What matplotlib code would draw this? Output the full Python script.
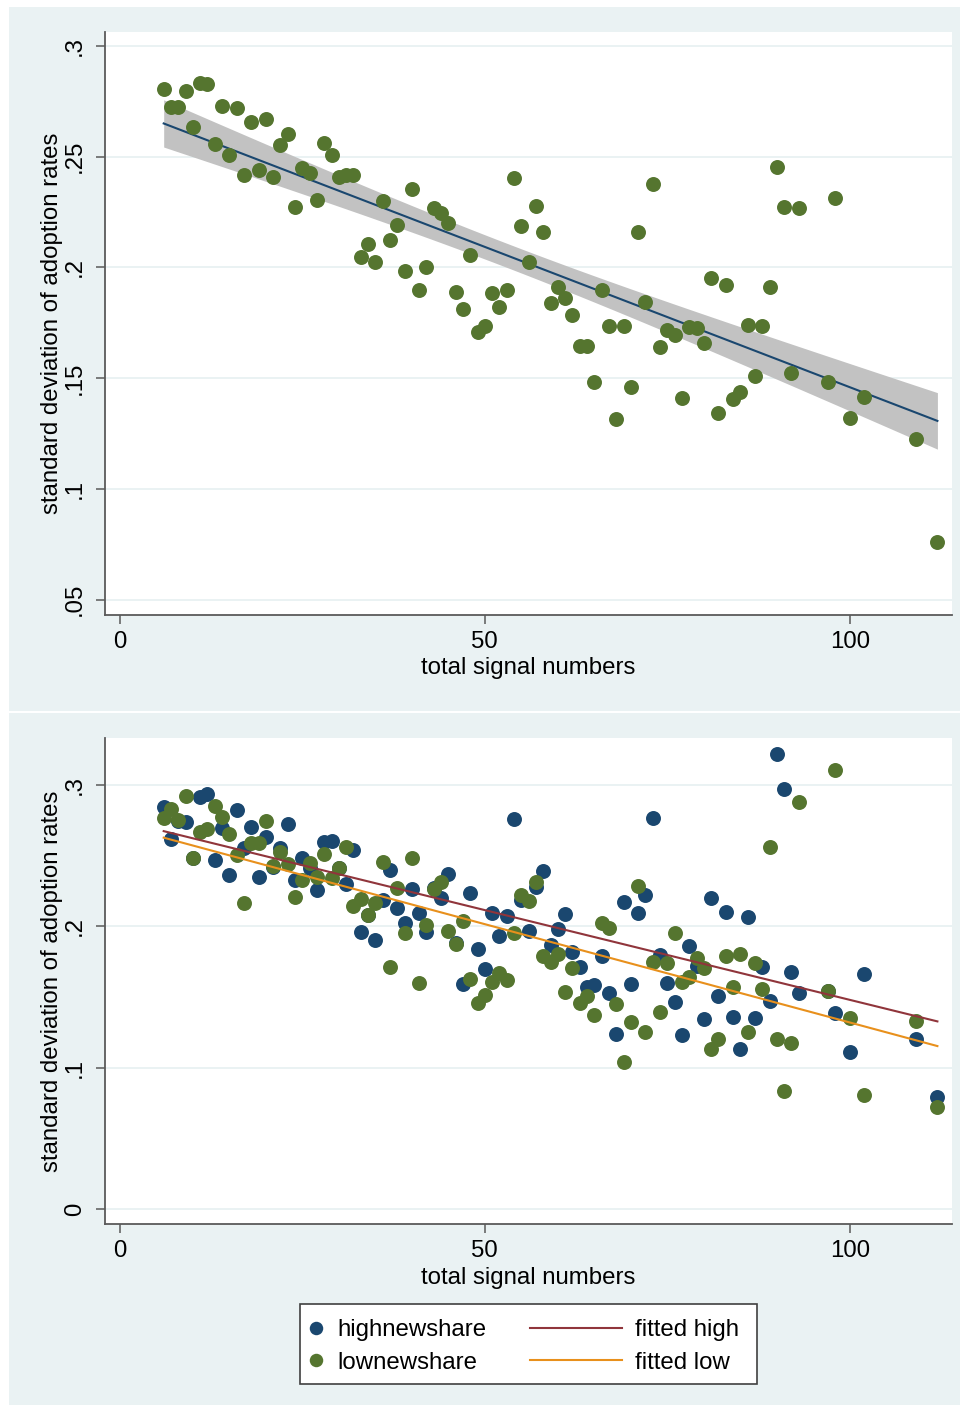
import numpy as np
import matplotlib
matplotlib.use("Agg")
import matplotlib.pyplot as plt
from matplotlib.patches import Rectangle
from matplotlib.lines import Line2D

plt.rcParams['font.family'] = ['Liberation Sans', 'DejaVu Sans']

# total signal numbers (same groups in both panels)
signals = [6, 7, 8, 9, 10, 11, 12, 13, 14, 15, 16, 17, 18, 19, 20, 21, 22, 23,
           24, 25, 26, 27, 28, 29, 30, 31, 32, 33, 34, 35, 36, 37, 38, 39, 40,
           41, 42, 43, 44, 45, 46, 47, 48, 49, 50, 51, 52, 53, 54, 55, 56, 57,
           58, 59, 60, 61, 62, 63, 64, 65, 66, 67, 68, 69, 70, 71, 72, 73, 74,
           75, 76, 77, 78, 79, 80, 81, 82, 83, 84, 85, 86, 87, 88, 89, 90, 91,
           92, 93, 97, 98, 100, 102, 109, 112]

# top panel: all news
sd_all = [.2805, .2726, .2726, .2797, .2633, .2834, .2828, .2558, .2730, .2508,
          .2721, .2416, .2658, .2440, .2670, .2409, .2552, .2603, .2274, .2448,
          .2428, .2303, .2561, .2507, .2410, .2416, .2416, .2047, .2105, .2023,
          .2300, .2126, .2192, .1984, .2353, .1898, .2002, .2267, .2245, .2200,
          .1891, .1811, .2058, .1710, .1737, .1883, .1820, .1897, .2403, .2189,
          .2026, .2279, .2160, .1838, .1911, .1862, .1784, .1644, .1644, .1483,
          .1897, .1737, .1315, .1735, .1462, .2160, .1844, .2377, .1640, .1718,
          .1694, .1411, .1731, .1726, .1658, .1954, .1342, .1921, .1405, .1437,
          .1740, .1509, .1736, .1912, .2455, .2272, .1525, .2269, .1484, .2315,
          .1321, .1415, .1224, .0759]

# bottom panel: high / low new-share groups
sd_high = [.2847, .2620, .2745, .2737, .2486, .2916, .2937, .2470, .2699, .2362,
           .2826, .2553, .2700, .2347, .2632, .2420, .2556, .2722, .2328, .2486,
           .2412, .2258, .2600, .2604, .2415, .2302, .2544, .1958, .2081, .1902,
           .2187, .2399, .2132, .2026, .2265, .2093, .1957, .2275, .2199, .2369,
           .1885, .1592, .2239, .1840, .1697, .2097, .1930, .2076, .2760, .2187,
           .1967, .2281, .2389, .1868, .1979, .2086, .1817, .1713, .1569, .1585,
           .1790, .1531, .1235, .2175, .1590, .2095, .2224, .2765, .1798, .1597,
           .1463, .1229, .1859, .1720, .1343, .2203, .1510, .2104, .1361, .1130,
           .2067, .1350, .1713, .1472, .3220, .2970, .1680, .1527, .1545, .1389,
           .1113, .1661, .1201, .0795]

sd_low = [.2765, .2829, .2753, .2923, .2486, .2670, .2687, .2852, .2772, .2654,
          .2505, .2164, .2588, .2588, .2746, .2427, .2529, .2439, .2206, .2328,
          .2447, .2352, .2512, .2340, .2415, .2564, .2147, .2192, .2084, .2165,
          .2453, .1715, .2270, .1951, .2482, .1597, .2010, .2262, .2317, .1970,
          .1873, .2040, .1626, .1456, .1518, .1603, .1668, .1621, .1956, .2220,
          .2178, .2314, .1791, .1750, .1805, .1534, .1704, .1456, .1510, .1370,
          .2026, .1991, .1451, .1043, .1320, .2286, .1255, .1750, .1392, .1739,
          .1956, .1605, .1640, .1774, .1704, .1132, .1203, .1791, .1569, .1802,
          .1255, .1744, .1557, .2564, .1203, .0835, .1178, .2883, .1543, .3107,
          .1355, .0807, .1330, .0725]

top_yticks = [.05, .1, .15, .2, .25, .3]
top_ylabels = ['.05', '.1', '.15', '.2', '.25', '.3']
bot_yticks = [0, .1, .2, .3]
bot_ylabels = ['0', '.1', '.2', '.3']
xticks = [0, 50, 100]

BG = '#EAF2F3'
NAVY = '#1A476F'
GREEN = '#55752F'
MAROON = '#90353B'
ORANGE = '#E8901C'
BAND = '#C2C2C2'
AXC = '#5A5A5A'
FS = 17.3
W, H = 968, 1411

x = np.array(signals, dtype=float)


def linfit(xv, yv):
    b, a = np.polyfit(xv, yv, 1)
    return a, b


def style(ax, yticks, ylabels, ylim, xlab_y):
    ax.set_xlim(-2, 114)
    ax.set_ylim(*ylim)
    ax.set_xticks(xticks)
    ax.set_yticks(yticks)
    ax.set_yticklabels(ylabels)
    for s in ['top', 'right']:
        ax.spines[s].set_visible(False)
    for s in ['left', 'bottom']:
        ax.spines[s].set_color(AXC)
        ax.spines[s].set_linewidth(1.3)
    ax.tick_params(length=6.5, width=1.1, color=AXC, labelsize=FS)
    ax.tick_params(axis='x', pad=5)
    ax.tick_params(axis='y', pad=7.5, labelrotation=90)
    for t in ax.get_yticklabels():
        t.set_va('center')
    ax.yaxis.grid(True, color=BG, lw=1.4)
    ax.set_axisbelow(True)
    ax.set_xlabel('total signal numbers', fontsize=FS)
    ax.xaxis.set_label_coords(0.5, xlab_y)
    ax.set_ylabel('standard deviation of adoption rates', fontsize=FS)
    ax.yaxis.set_label_coords(-0.0494, 0.5)


fig = plt.figure(figsize=(W / 100, H / 100), dpi=100)
fig.patch.set_facecolor('white')
fig.patches.append(Rectangle((9 / W, 1 - 711 / H), 951 / W, 704 / H,
                             transform=fig.transFigure, facecolor=BG,
                             edgecolor='none', zorder=-10))
fig.patches.append(Rectangle((9 / W, 1 - 1405 / H), 951 / W, 692 / H,
                             transform=fig.transFigure, facecolor=BG,
                             edgecolor='none', zorder=-10))

# ---- top panel: scatter with linear fit and 95% CI
ax1 = fig.add_axes([105.3 / W, 1 - 615 / H, 846.7 / W, 583 / H])
y = np.array(sd_all)
n = len(x)
a, b = linfit(x, y)
s = np.sqrt(np.sum((y - (a + b * x)) ** 2) / (n - 2))
xg = np.linspace(x.min(), x.max(), 200)
se = s * np.sqrt(1 / n + (xg - x.mean()) ** 2 / np.sum((x - x.mean()) ** 2))
yfit = a + b * xg
ax1.fill_between(xg, yfit - 1.986 * se, yfit + 1.986 * se, color=BAND, lw=0, zorder=2)
ax1.plot(xg, yfit, color=NAVY, lw=1.5, zorder=3)
ax1.scatter(x, y, s=116, color=GREEN, linewidths=0, zorder=4)
style(ax1, top_yticks, top_ylabels, (0.0431, 0.3063), -0.0728)

# ---- bottom panel: high vs low groups with fitted lines
ax2 = fig.add_axes([105.3 / W, 1 - 1224 / H, 846.7 / W, 485.7 / H])
ax2.scatter(x, sd_high, s=116, color=NAVY, linewidths=0, zorder=3)
ax2.scatter(x, sd_low, s=116, color=GREEN, linewidths=0, zorder=4)
xl = np.array([x.min(), x.max()])
ah, bh = linfit(x, np.array(sd_high))
al, bl = linfit(x, np.array(sd_low))
ax2.plot(xl, ah + bh * xl, color=MAROON, lw=1.5, zorder=5)
ax2.plot(xl, al + bl * xl, color=ORANGE, lw=1.5, zorder=6)
style(ax2, bot_yticks, bot_ylabels, (-0.0106, 0.3331), -0.0878)

# ---- legend (box + two columns)
fig.patches.append(Rectangle((300 / W, 1 - 1384 / H), 457 / W, 80 / H,
                             transform=fig.transFigure, facecolor='white',
                             edgecolor='#404040', lw=1.2, zorder=4))
mk = [Line2D([], [], ls='none', marker='o', ms=9.7, color=NAVY, mew=0),
      Line2D([], [], ls='none', marker='o', ms=9.7, color=GREEN, mew=0)]
ln = [Line2D([], [], color=MAROON, lw=1.5), Line2D([], [], color=ORANGE, lw=1.5)]
ycen = 1 - 1346.5 / H
leg1 = fig.legend(mk, ['highnewshare', 'lownewshare'], loc='center left',
                  bbox_to_anchor=(309 / W, ycen), frameon=False, fontsize=FS,
                  handlelength=0.6, handletextpad=0.58, borderpad=0,
                  borderaxespad=0, labelspacing=0.42)
leg2 = fig.legend(ln, ['fitted high', 'fitted low'], loc='center left',
                  bbox_to_anchor=(530 / W, ycen), frameon=False, fontsize=FS,
                  handlelength=3.83, handletextpad=0.54, borderpad=0,
                  borderaxespad=0, labelspacing=0.42)
leg1.set_zorder(6)
leg2.set_zorder(6)

fig.savefig('out.png', dpi=100, facecolor=fig.get_facecolor())
